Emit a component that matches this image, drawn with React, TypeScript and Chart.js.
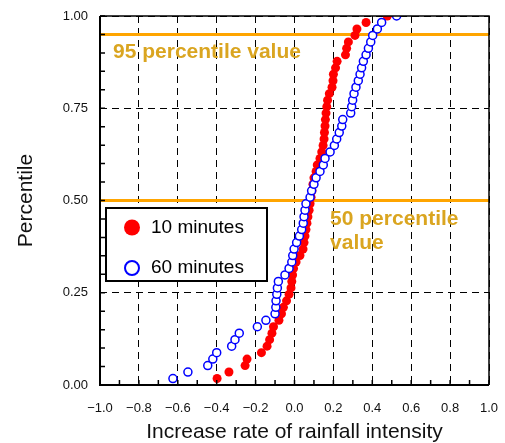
import React, { useEffect, useRef } from 'react';
import { Chart, registerables } from 'chart.js';

Chart.register(...registerables);

// Empirical cumulative percentile (rank / count) shared by both series
const percentiles = [
  0.0175, 0.0351, 0.0526, 0.0702, 0.0877, 0.1053, 0.1228, 0.1404, 0.1579, 0.1754,
  0.193, 0.2105, 0.2281, 0.2456, 0.2632, 0.2807, 0.2982, 0.3158, 0.3333, 0.3509,
  0.3684, 0.386, 0.4035, 0.4211, 0.4386, 0.4561, 0.4737, 0.4912, 0.5088, 0.5263,
  0.5439, 0.5614, 0.5789, 0.5965, 0.614, 0.6316, 0.6491, 0.6667, 0.6842, 0.7018,
  0.7193, 0.7368, 0.7544, 0.7719, 0.7895, 0.807, 0.8246, 0.8421, 0.8596, 0.8772,
  0.8947, 0.9123, 0.9298, 0.9474, 0.9649, 0.9825, 1.0,
];

// Increase rate of rainfall intensity, 10-minute series (sorted)
const rate10min = [
  -0.398, -0.337, -0.254, -0.244, -0.17, -0.141, -0.128, -0.116, -0.108, -0.08,
  -0.067, -0.057, -0.041, -0.028, -0.018, -0.014, -0.01, -0.005, 0.008, 0.028,
  0.044, 0.049, 0.054, 0.059, 0.064, 0.069, 0.075, 0.08, 0.085, 0.09,
  0.095, 0.1, 0.111, 0.117, 0.131, 0.14, 0.147, 0.152, 0.154, 0.157,
  0.159, 0.162, 0.166, 0.17, 0.179, 0.193, 0.198, 0.2, 0.211, 0.219,
  0.262, 0.268, 0.277, 0.311, 0.321, 0.368, 0.477,
];

// Increase rate of rainfall intensity, 60-minute series (sorted)
const rate60min = [
  -0.625, -0.548, -0.446, -0.42, -0.4, -0.323, -0.306, -0.284, -0.191, -0.147,
  -0.1, -0.096, -0.095, -0.091, -0.088, -0.083, -0.049, -0.028, -0.014, -0.009,
  -0.002, 0.011, 0.025, 0.037, 0.045, 0.049, 0.054, 0.059, 0.08, 0.088,
  0.1, 0.111, 0.131, 0.148, 0.157, 0.183, 0.205, 0.217, 0.23, 0.243,
  0.248, 0.289, 0.294, 0.299, 0.306, 0.316, 0.328, 0.337, 0.345, 0.354,
  0.368, 0.38, 0.392, 0.402, 0.426, 0.448, 0.525,
];

const seriesLabels = ['10 minutes', '60 minutes'];
const referenceLevels = [0.95, 0.5];
const referenceLabels = [['95 percentile value'], ['50 percentile', 'value']];
const referenceLabelX = [-0.933, 0.183];
const referenceLabelY = [0.902, 0.448];
const xTitle = 'Increase rate of rainfall intensity';
const yTitle = 'Percentile';

const FONT = '"Liberation Sans", Arial, Helvetica, sans-serif';
const RED = '#FF0000';
const BLUE = '#0000FF';
const ORANGE = '#FFA500';
const GOLD = '#DAA520';

const fmtX = (v: number) => {
  const n = Math.abs(v) < 1e-9 ? 0 : v;
  return n.toFixed(1).replace('-', '\u2212');
};
const fmtY = (v: number) => {
  const n = Math.abs(v) < 1e-9 ? 0 : v;
  return n.toFixed(2);
};

export default function App() {
  const canvasRef = useRef<HTMLCanvasElement>(null);

  useEffect(() => {
    document.body.style.margin = '0';
    const canvas = canvasRef.current;
    if (!canvas) return;

    const overlay = {
      id: 'overlay',
      beforeDatasetsDraw(chart: any) {
        const { ctx, chartArea: a, scales } = chart;
        const x = scales.x;
        const y = scales.y;
        ctx.save();
        ctx.strokeStyle = ORANGE;
        ctx.lineWidth = 3;
        referenceLevels.forEach((lvl) => {
          const py = y.getPixelForValue(lvl);
          ctx.beginPath();
          ctx.moveTo(a.left, py);
          ctx.lineTo(a.right, py);
          ctx.stroke();
        });
        ctx.fillStyle = GOLD;
        ctx.font = `bold 21px ${FONT}`;
        ctx.textAlign = 'left';
        ctx.textBaseline = 'middle';
        referenceLabels.forEach((lines, i) => {
          const px = x.getPixelForValue(referenceLabelX[i]);
          const py = y.getPixelForValue(referenceLabelY[i]);
          lines.forEach((t, j) => ctx.fillText(t, px, py + j * 24));
        });
        ctx.restore();
      },
      afterDatasetsDraw(chart: any) {
        const { ctx, chartArea: a } = chart;
        ctx.save();
        // legend box
        const bx = a.left + 6;
        const by = 208;
        const bw = 161;
        const bh = 73;
        ctx.fillStyle = '#FFFFFF';
        ctx.fillRect(bx, by, bw, bh);
        ctx.strokeStyle = '#000000';
        ctx.lineWidth = 2;
        ctx.strokeRect(bx, by, bw, bh);
        // entries
        ctx.beginPath();
        ctx.arc(bx + 26, by + 19.5, 8, 0, Math.PI * 2);
        ctx.fillStyle = RED;
        ctx.fill();
        ctx.beginPath();
        ctx.arc(bx + 26, by + 60, 7, 0, Math.PI * 2);
        ctx.fillStyle = '#FFFFFF';
        ctx.fill();
        ctx.strokeStyle = BLUE;
        ctx.lineWidth = 2;
        ctx.stroke();
        ctx.fillStyle = '#000000';
        ctx.font = `19px ${FONT}`;
        ctx.textAlign = 'left';
        ctx.textBaseline = 'middle';
        ctx.fillText(seriesLabels[0], bx + 45, by + 20);
        ctx.fillText(seriesLabels[1], bx + 45, by + 59.5);
        ctx.restore();
      },
      afterDraw(chart: any) {
        const { ctx, chartArea: a, scales } = chart;
        const x = scales.x;
        const y = scales.y;
        ctx.save();
        ctx.strokeStyle = '#000000';
        // top/right frame
        ctx.lineWidth = 1.5;
        ctx.beginPath();
        ctx.moveTo(a.left, a.top);
        ctx.lineTo(a.right, a.top);
        ctx.lineTo(a.right, a.bottom);
        ctx.stroke();
        // left/bottom axes
        ctx.lineWidth = 2;
        ctx.beginPath();
        ctx.moveTo(a.left, a.top);
        ctx.lineTo(a.left, a.bottom);
        ctx.lineTo(a.right, a.bottom);
        ctx.stroke();
        // inward minor/major tick marks
        ctx.lineWidth = 1.5;
        ctx.beginPath();
        for (let k = -10; k <= 10; k++) {
          const px = x.getPixelForValue(k / 10);
          ctx.moveTo(px, a.bottom);
          ctx.lineTo(px, a.bottom - 5);
        }
        for (let k = 0; k <= 20; k++) {
          const py = y.getPixelForValue(k / 20);
          ctx.moveTo(a.left, py);
          ctx.lineTo(a.left + 5, py);
        }
        ctx.stroke();
        ctx.restore();
      },
    };

    const chart = new Chart(canvas, {
      type: 'scatter',
      data: {
        datasets: [
          {
            label: seriesLabels[1],
            data: percentiles.map((p, i) => ({ x: rate60min[i], y: p })),
            pointRadius: 4,
            pointBorderWidth: 1.5,
            pointBorderColor: BLUE,
            pointBackgroundColor: '#FFFFFF',
            showLine: false,
          },
          {
            label: seriesLabels[0],
            data: percentiles.map((p, i) => ({ x: rate10min[i], y: p })),
            pointRadius: 4.5,
            pointBorderWidth: 0,
            pointBorderColor: RED,
            pointBackgroundColor: RED,
            showLine: false,
          },
        ],
      },
      options: {
        animation: false,
        responsive: false,
        maintainAspectRatio: false,
        events: [],
        layout: { padding: { left: 0, right: 16, top: 16, bottom: 0 } },
        plugins: {
          legend: { display: false },
          tooltip: { enabled: false },
        },
        scales: {
          x: {
            type: 'linear',
            min: -1,
            max: 1,
            ticks: {
              stepSize: 0.2,
              autoSkip: false,
              maxRotation: 0,
              padding: 16,
              color: '#111111',
              font: { family: FONT, size: 13 },
              callback: (v: any) => fmtX(Number(v)),
            },
            grid: { color: '#000000', lineWidth: 1, drawTicks: false },
            border: { display: false, dash: [7, 5] },
            title: {
              display: true,
              text: xTitle,
              color: '#111111',
              font: { family: FONT, size: 21 },
              padding: { top: 0, bottom: -2 },
            },
            afterFit: (s: any) => {
              s.height = 58;
              s.paddingLeft = 0;
              s.paddingRight = 0;
            },
          },
          y: {
            type: 'linear',
            min: 0,
            max: 1,
            ticks: {
              stepSize: 0.25,
              autoSkip: false,
              padding: 12,
              color: '#111111',
              font: { family: FONT, size: 13 },
              callback: (v: any) => fmtY(Number(v)),
            },
            grid: { color: '#000000', lineWidth: 1, drawTicks: false },
            border: { display: false, dash: [7, 5] },
            title: {
              display: true,
              text: yTitle,
              color: '#111111',
              font: { family: FONT, size: 21 },
              padding: { top: 14, bottom: 0 },
            },
            afterFit: (s: any) => {
              s.width = 100;
              s.paddingTop = 0;
              s.paddingBottom = 0;
            },
          },
        },
      },
      plugins: [overlay],
    } as any);

    return () => chart.destroy();
  }, []);

  return (
    <div style={{ width: 505, height: 443 }}>
      <canvas ref={canvasRef} width={505} height={443} style={{ display: 'block' }} />
    </div>
  );
}
